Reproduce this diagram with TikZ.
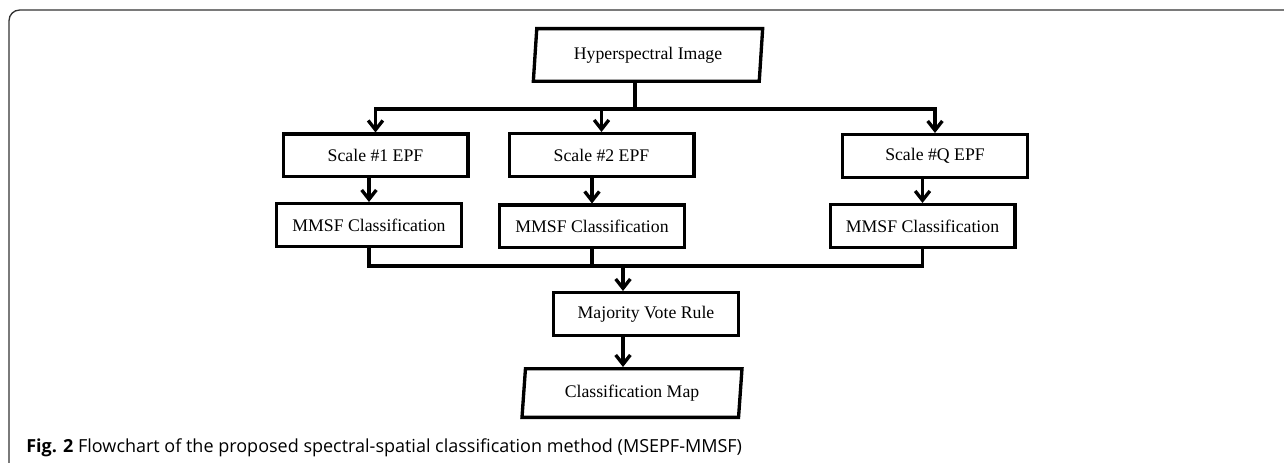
\documentclass[tikz,border=0pt]{standalone}
\usepackage{fontspec}
\setmainfont{Liberation Serif}
\newfontfamily\capfont{Open Sans}
\usetikzlibrary{arrows.meta,shapes.geometric}

\begin{document}
\begin{tikzpicture}[
        x=0.75pt, y=-0.75pt,
        procbox/.style={draw, line width=2.5pt, minimum width=138.5pt, minimum height=32pt, inner sep=0pt, font=\fontsize{13.3}{15}\selectfont},
        iobox/.style={draw, trapezium, trapezium left angle=78, trapezium right angle=102, trapezium stretches body, line width=2.5pt, inner sep=0pt, font=\fontsize{13.3}{15}\selectfont},
        link/.style={line width=2.5pt},
        arr/.style={link, -{Straight Barb[length=7pt, width=11pt]}},
        frame/.style={line width=1pt, draw=black!80, rounded corners=8pt}
      ]
        \useasboundingbox (0,0) rectangle (1284,463);
        \draw[frame] (9,480) |- (1300,10);
        % input and filtering at several scales
        \node[iobox, minimum width=172pt, minimum height=39.5pt] (hyper) at (648,55) {Hyperspectral Image};
        \node[procbox] (s1) at (375.5,155.5) {Scale \#1 EPF};
        \node[procbox] (s2) at (601.5,155) {Scale \#2 EPF};
        \node[procbox] (s3) at (935,156) {Scale \#Q EPF};
        \node[procbox] (m1) at (369,225) {MMSF Classification};
        \node[procbox] (m2) at (592,226.5) {MMSF Classification};
        \node[procbox] (m3) at (922.5,226) {MMSF Classification};
        % fusion
        \node[procbox] (vote) at (646,314) {Majority Vote Rule};
        \node[iobox, minimum width=165pt, minimum height=36.5pt] (map) at (632,393) {Classification Map};
        \node[anchor=base west, inner sep=0pt, font=\capfont\fontsize{13.5}{16}\selectfont] (cap) at (26,452)
          {\textbf{Fig. 2} Flowchart of the proposed spectral-spatial classification method (MSEPF-MMSF)};
        \coordinate (split) at (635,109);
        \coordinate (join) at (623,266);
        \draw[link] (hyper.south -| split) -- (split);
        \foreach \s/\m in {s1/m1,s2/m2,s3/m3} {
          \draw[arr] (split) -| (\s.north);
          \draw[arr] (\s.south -| \m.north) -- (\m.north);
          \draw[link] (\m.south) |- (join);
        }
        \draw[arr] (join) -- (join |- vote.north);
        \draw[arr] (join |- vote.south) -- (join |- map.north);
      \end{tikzpicture}
\end{document}
